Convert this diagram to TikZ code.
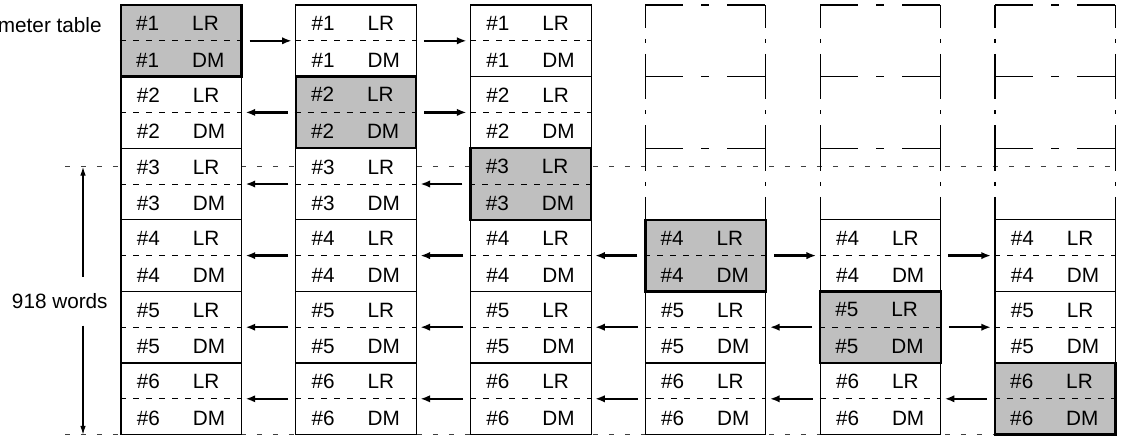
\documentclass[tikz,border=0pt]{standalone}
\usepackage{fontspec}
\setmainfont{Liberation Sans}
\usetikzlibrary{arrows.meta,calc}

\tikzset{
  group/.style={draw, line width=0.65pt, fill=white, minimum width=2.41cm, minimum height=1.432cm, inner sep=0pt},
  current/.style={group, fill=black!25, line width=1.3pt},
  txt/.style={anchor=base west, inner sep=0pt},
  midline/.style={line width=0.5pt, dash pattern=on 1.2mm off 1.4mm},
  guide/.style={line width=0.5pt, black!75, dash pattern=on 1mm off 2.2mm},
  move/.style={-{Latex[length=5.5pt,width=4.2pt]}, line width=1.35pt, shorten <=1.4mm, shorten >=0.7mm},
  dimarrow/.style={-{Latex[length=5pt,width=3.2pt]}, line width=0.6pt},
  hside/.style={line width=0.65pt, dash pattern=on 7.6mm off 3.6mm on 1.6mm off 3.6mm on 7.6mm off 5mm},
  vside/.style={line width=0.65pt, dash pattern=on 9.12mm off 2.2mm on 0.8mm off 2.2mm, dash phase=4.56mm},
}

\begin{document}
\begin{tikzpicture}[x=0.02cm, y=-0.02cm, font=\fontsize{11.8}{14}\selectfont]
  \useasboundingbox (0,0) rectangle (1122,436);
  \draw[guide] (65,166.9) -- (1116.5,166.9);
  \draw[guide] (65,434.6) -- (1116.5,434.6);
  % empty slots of the later tables
  \foreach \c in {4,5,6} {
    \pgfmathsetmacro\xl{121+174.8*(\c-1)}
    \foreach \y in {5,76.6,148.2}
      \draw[hside] (\xl,\y) -- ++(120.5,0);
    \draw[vside] (\xl,5) -- (\xl,219.8);
    \draw[vside] (\xl+120.5,5) -- (\xl+120.5,219.8);
  }
  % entries, the current one last
  \foreach \c/\first in {1/1,2/1,3/1,4/4,5/4,6/4}
    \foreach \g in {\first,...,6} {
      \pgfmathsetmacro\xc{181.25+174.8*(\c-1)}
      \pgfmathsetmacro\yc{40.8+71.6*(\g-1)}
      \ifnum\g=\c\else
        \node[group] (g\c\g) at (\xc,\yc) {};
      \fi
    }
  \foreach \c in {1,...,6} {
    \pgfmathsetmacro\xc{181.25+174.8*(\c-1)}
    \pgfmathsetmacro\yc{40.8+71.6*(\c-1)}
    \node[current] (g\c\c) at (\xc,\yc) {};
  }
  \foreach \c/\first in {1/1,2/1,3/1,4/4,5/4,6/4}
    \foreach \g in {\first,...,6} {
      \draw[midline] (g\c\g.west) -- (g\c\g.east);
      \node[txt] (a\c\g) at ($(g\c\g.north west)+(16,26.5)$) {\#\g};
      \node[txt] (b\c\g) at ($(g\c\g.north west)+(72,26.5)$) {LR};
      \node[txt] (c\c\g) at ($(g\c\g.west)+(16,26.5)$) {\#\g};
      \node[txt] (d\c\g) at ($(g\c\g.west)+(72,26.5)$) {DM};
    }
  % transfers
  \foreach \g/\a/\b in {1/1/2,1/2/3,2/2/1,2/2/3,3/2/1,3/3/2,4/2/1,4/3/2,4/4/3,4/4/5,4/5/6,
      5/2/1,5/3/2,5/4/3,5/5/4,5/5/6,6/2/1,6/3/2,6/4/3,6/5/4,6/6/5}
    \draw[move] (g\a\g) -- (g\b\g);
  \node[anchor=base east, inner sep=0pt] (ptab) at (102,32) {meter table};
  \node[anchor=base east, inner sep=0pt] (words) at (108,308) {918 words};
  \coordinate (top) at (83,166.9);
  \coordinate (bot) at (83,434.6);
  \draw[dimarrow] ($(words.north -| top)+(0,-16)$) -- (top);
  \draw[dimarrow] ($(words.south -| bot)+(0,17)$) -- (bot);
\end{tikzpicture}
\end{document}
